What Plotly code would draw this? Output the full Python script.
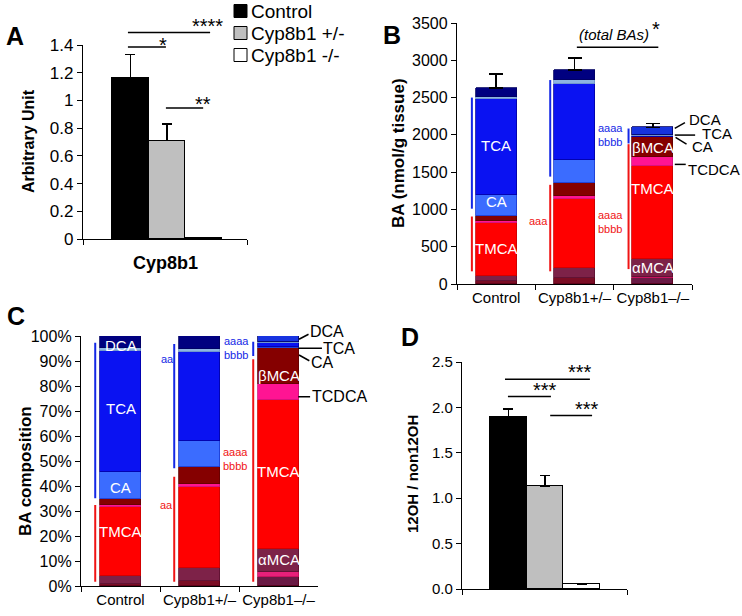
import plotly.graph_objects as go

FONT = "Liberation Sans, Arial, sans-serif"
W, H = 742, 616

# ---------------- data ----------------
# Panel A: Cyp8b1 expression
A_groups = ["Control", "Cyp8b1 +/-", "Cyp8b1 -/-"]
A_values = [1.16, 0.71, 0.005]
A_err = [0.17, 0.12, 0.0]
A_pos = [-1, 0, 1]

# Panel D: 12OH / non12OH ratio
D_values = [1.89, 1.13, 0.05]
D_err = [0.09, 0.12, 0.01]
D_pos = [-1, 0, 1]

# Panels B & C: stacked bile-acid composition
BC_cats = ["Control", "Cyp8b1+/–", "Cyp8b1–/–"]
species = ["other", "minor", "αMCA", "TMCA", "TCDCA", "βMCA", "CA", "TCA", "TDCA", "DCA"]
B_other = [40, 80, 75]
B_minor = [0, 0, 25]
B_aMCA = [70, 135, 230]
B_TMCA = [710, 925, 1250]
B_TCDCA = [20, 35, 120]
B_bMCA = [70, 180, 265]
B_CA = [290, 310, 10]
B_TCA = [1280, 1020, 15]
B_TDCA = [30, 45, 8]
B_DCA = [120, 140, 102]
B_err = [185, 160, 50]

C_other = [1.0, 2.0, 3.5]
C_minor = [0.0, 0.0, 2.0]
C_aMCA = [3.0, 5.3, 9.5]
C_TMCA = [27.5, 32.2, 59.5]
C_TCDCA = [1.0, 1.5, 6.5]
C_bMCA = [2.3, 6.5, 14.2]
C_CA = [11.0, 10.5, 0.4]
C_TCA = [48.3, 35.5, 1.5]
C_TDCA = [1.0, 1.5, 0.6]
C_DCA = [4.9, 5.0, 2.3]

B_series = [B_other, B_minor, B_aMCA, B_TMCA, B_TCDCA, B_bMCA, B_CA, B_TCA, B_TDCA, B_DCA]
C_series = [C_other, C_minor, C_aMCA, C_TMCA, C_TCDCA, C_bMCA, C_CA, C_TCA, C_TDCA, C_DCA]

# ---------------- styles ----------------
seg_fill = {
    "other": ["#7b0d24", "#7b0d24", "#6a1a45"],
    "minor": ["#e8207a"] * 3,
    "αMCA": ["#7d2248"] * 3,
    "TMCA": ["#ff0000"] * 3,
    "TCDCA": ["#ff1493"] * 3,
    "βMCA": ["#850000"] * 3,
    "CA": ["#3b6cff"] * 3,
    "TCA": ["#0a12f2"] * 3,
    "TDCA": ["#8db4e2"] * 3,
    "DCA": ["#000080", "#000080", "#1733e0"],
}
seg_line = {
    "other": "#5a0018", "minor": "#c0105a", "αMCA": "#5a1030", "TMCA": "#c80000",
    "TCDCA": "#d0107a", "βMCA": "#600000", "CA": "#1a3ad0", "TCA": "#0000a0",
    "TDCA": "#6a90c8", "DCA": "#000060",
}
A_colors = ["#000000", "#bfbfbf", "#ffffff"]

A_RANGE = [-2.3, 2.19]
A_YR = [0, 1.4]
D_RANGE = [-2.26, 2.23]
D_YR = [0, 2.5]
BC_XR = [-0.5, 2.5]
B_YR = [0, 3500]
C_YR = [0, 100]
RANGES = {"x": A_RANGE, "y": A_YR, "x2": BC_XR, "y2": B_YR,
          "x3": BC_XR, "y3": C_YR, "x4": D_RANGE, "y4": D_YR}

fig = go.Figure()

# Panel A bars
for i in range(3):
    fig.add_trace(go.Bar(
        x=[A_pos[i]], y=[A_values[i]], width=1.0, name=A_groups[i],
        marker=dict(color=A_colors[i], line=dict(color="black", width=1)),
        error_y=dict(type="data", symmetric=False, array=[A_err[i]], arrayminus=[0],
                     color="black", thickness=1.5, width=5, visible=A_err[i] > 0),
        xaxis="x", yaxis="y", showlegend=False))

# Panel D bars
for i in range(3):
    fig.add_trace(go.Bar(
        x=[D_pos[i]], y=[D_values[i]], width=1.0, name=A_groups[i],
        marker=dict(color=A_colors[i], line=dict(color="black", width=1)),
        error_y=dict(type="data", symmetric=False, array=[D_err[i]], arrayminus=[0],
                     color="black", thickness=1.5, width=5),
        xaxis="x4", yaxis="y4", showlegend=False))

# Panels B and C stacked bars
for k, sp in enumerate(species):
    eb = None
    if sp == "DCA":
        eb = dict(type="data", symmetric=False, array=B_err, arrayminus=[0, 0, 0],
                  color="black", thickness=1.5, width=7)
    fig.add_trace(go.Bar(
        x=BC_cats, y=B_series[k], width=0.52, name=sp,
        marker=dict(color=seg_fill[sp], line=dict(color=seg_line[sp], width=0.8)),
        error_y=eb, xaxis="x2", yaxis="y2", showlegend=False))
    fig.add_trace(go.Bar(
        x=BC_cats, y=C_series[k], width=0.52, name=sp,
        marker=dict(color=seg_fill[sp], line=dict(color=seg_line[sp], width=0.8)),
        xaxis="x3", yaxis="y3", showlegend=False))

# ---------------- helpers ----------------
def fr(v, r):
    return (v - r[0]) / (r[1] - r[0])

shapes = []
annos = []

def line(ax, x0, x1, y0, y1, color="black", width=1.5):
    xr, yr = RANGES[ax[0]], RANGES[ax[1]]
    shapes.append(dict(type="line", xref=f"{ax[0]} domain", yref=f"{ax[1]} domain",
                       x0=fr(x0, xr), x1=fr(x1, xr), y0=fr(y0, yr), y1=fr(y1, yr),
                       line=dict(color=color, width=width)))

def text(ax, x, y, t, size=14, color="black", yshift=0, **kw):
    xr, yr = RANGES[ax[0]], RANGES[ax[1]]
    d = dict(xref=f"{ax[0]} domain", yref=f"{ax[1]} domain", x=fr(x, xr), y=fr(y, yr),
             text=t, showarrow=False, xanchor="center", yanchor="middle",
             font=dict(family=FONT, size=size, color=color), yshift=yshift)
    d.update(kw)
    annos.append(d)

def ptext(px, py, t, size=16, bold=False, angle=0, xanchor="center"):
    if bold:
        t = f"<b>{t}</b>"
    annos.append(dict(xref="paper", yref="paper", x=px / W, y=1 - py / H, text=t,
                      showarrow=False, textangle=angle, xanchor=xanchor, yanchor="middle",
                      font=dict(family=FONT, size=size, color="black")))

# Legend (custom, for panel A/D groups)
for i, g in enumerate(A_groups):
    cy = 11 + 22 * i
    shapes.append(dict(type="rect", xref="paper", yref="paper",
                       x0=234 / W, x1=247 / W, y0=1 - (cy + 6.5) / H, y1=1 - (cy - 6.5) / H,
                       fillcolor=A_colors[i], line=dict(color="black", width=1)))
    ptext(249, cy, g, size=19, xanchor="left")

# Significance bars (data units)
A_sig = [(-1.07, 1.18, 1.49, "****", 1.10, 1.537),
         (-1.07, -0.03, 1.385, "*", -0.11, 1.40),
         (-0.03, 0.99, 0.945, "**", 0.99, 0.974)]
for x0, x1, y, t, tx, ty in A_sig:
    line(("x", "y"), x0, x1, y, y)
    text(("x", "y"), tx, ty, t, size=20)

D_sig = [(-1.09, 1.22, 2.31, "***", 0.95, 2.387),
         (-1.01, 0.16, 2.12, "***", 0.0, 2.19),
         (0.14, 1.28, 1.91, "***", 1.14, 1.98)]
for x0, x1, y, t, tx, ty in D_sig:
    line(("x4", "y4"), x0, x1, y, y)
    text(("x4", "y4"), tx, ty, t, size=20)

# B total BAs bar
line(("x2", "y2"), 1.03, 2.07, 3176, 3176)
text(("x2", "y2"), 1.5, 3340, "<i>(total BAs)</i>", size=15)
text(("x2", "y2"), 2.04, 3420, "*", size=20)

# Bracket lines beside bars: (category index, y0, y1, color)
BLUE, RED = "#1428e6", "#f01414"
B_brackets = [(0, 1010, 2500, BLUE), (0, 170, 905, RED),
              (1, 1440, 2735, BLUE), (1, 170, 1330, RED),
              (2, 1885, 2085, BLUE), (2, 200, 1875, RED)]
for c, y0, y1, col in B_brackets:
    line(("x2", "y2"), c - 0.31, c - 0.31, y0, y1, color=col, width=2)
C_brackets = [(0, 35.1, 97.3, BLUE), (0, 1.7, 32.4, RED),
              (1, 47.1, 96.8, BLUE), (1, 1.7, 43.7, RED),
              (2, 92.0, 97.7, BLUE), (2, 1.7, 90.7, RED)]
for c, y0, y1, col in C_brackets:
    line(("x3", "y3"), c - 0.32, c - 0.32, y0, y1, color=col, width=2)

text(("x2", "y2"), 0.545, 848, "aaa", size=11, color=RED)
text(("x2", "y2"), 1.46, 2000, "aaaa<br>bbbb", size=11, color=BLUE)
text(("x2", "y2"), 1.46, 828, "aaaa<br>bbbb", size=11, color=RED)
text(("x3", "y3"), 0.60, 90.7, "aa", size=11, color=BLUE)
text(("x3", "y3"), 0.58, 32.4, "aa", size=11, color=RED)
text(("x3", "y3"), 1.47, 95.2, "aaaa<br>bbbb", size=11, color=BLUE)
text(("x3", "y3"), 1.45, 51.0, "aaaa<br>bbbb", size=11, color=RED)

# In-bar labels
WHITE = "#ffffff"
for c, y, t in [(0, 1853, "TCA"), (0, 1103, "CA"), (0, 478, "TMCA"),
                (2, 1832, "βMCA"), (2, 1282, "TMCA"), (2, 224, "αMCA")]:
    text(("x2", "y2"), c, y, t, size=15, color=WHITE)
for c, y, t in [(0, 96.4, "DCA"), (0, 71.1, "TCA"), (0, 39.5, "CA"), (0, 21.7, "TMCA"),
                (2, 84.4, "βMCA"), (2, 45.7, "TMCA"), (2, 10.7, "αMCA")]:
    text(("x3", "y3"), c, y, t, size=15, color=WHITE)

# Leader labels beside the knockout bar
B_lead = [((2.28, 2086), (2.41, 2165), "DCA", (2.66, 2205)),
          ((2.28, 1997), (2.54, 1997), "TCA", (2.82, 2019)),
          ((2.29, 1966), (2.43, 1876), "CA", (2.64, 1840)),
          ((2.28, 1604), (2.42, 1604), "TCDCA", (2.78, 1541))]
for (x0, y0), (x1, y1), t, (tx, ty) in B_lead:
    line(("x2", "y2"), x0, x1, y0, y1, width=1.5)
    text(("x2", "y2"), tx, ty, t, size=15)
C_lead = [((2.26, 98.7), (2.38, 100.7), "DCA", (2.62, 101.7)),
          ((2.25, 95.1), (2.55, 95.1), "TCA", (2.77, 95.1)),
          ((2.26, 92.4), (2.39, 90.1), "CA", (2.56, 89.3)),
          ((2.25, 75.7), (2.40, 75.7), "TCDCA", (2.77, 76.0))]
for (x0, y0), (x1, y1), t, (tx, ty) in C_lead:
    line(("x3", "y3"), x0, x1, y0, y1, width=1.5)
    text(("x3", "y3"), tx, ty, t, size=16)

# Panel letters and axis titles
ptext(15, 36, "A", size=25, bold=True)
ptext(392, 35, "B", size=25, bold=True)
ptext(16, 316, "C", size=25, bold=True)
ptext(410, 337, "D", size=25, bold=True)
ptext(28, 141, "Arbitrary Unit", size=16, bold=True, angle=-90)
ptext(165, 263, "Cyp8b1", size=18, bold=True)
ptext(398, 153, "BA (nmol/g tissue)", size=17, bold=True, angle=-90)
ptext(25, 471, "BA composition", size=17, bold=True, angle=-90)
ptext(413, 474, "12OH / non12OH", size=15, bold=True, angle=-90)

axis_common = dict(showline=True, linecolor="black", linewidth=1.3, showgrid=False,
                   zeroline=False, ticks="outside", ticklen=5, tickcolor="black",
                   tickwidth=1.3, automargin=False)

fig.update_layout(
    width=W, height=H, margin=dict(l=0, r=0, t=0, b=0, pad=0, autoexpand=False),
    paper_bgcolor="white", plot_bgcolor="rgba(0,0,0,0)",
    barmode="stack", bargap=0, showlegend=False,
    font=dict(family=FONT, color="black"),
    xaxis=dict(domain=[83 / W, 247 / W], range=A_RANGE, anchor="y",
               tickvals=[A_RANGE[0], A_RANGE[1]], showticklabels=False, **axis_common),
    yaxis=dict(domain=[1 - 239 / H, 1 - 45 / H], range=A_YR, anchor="x", dtick=0.2,
               tickfont=dict(size=17), **axis_common),
    xaxis2=dict(domain=[457 / W, 692 / W], range=BC_XR, anchor="y2", type="category",
                tickson="boundaries", tickangle=0, tickfont=dict(size=15), **axis_common),
    yaxis2=dict(domain=[1 - 284 / H, 1 - 23 / H], range=B_YR, anchor="x2", dtick=500,
                tickfont=dict(size=16), **axis_common),
    xaxis3=dict(domain=[81 / W, 318 / W], range=BC_XR, anchor="y3", type="category",
                tickson="boundaries", tickangle=0, tickfont=dict(size=15), **axis_common),
    yaxis3=dict(domain=[1 - 586 / H, 1 - 336 / H], range=C_YR, anchor="x3", dtick=10,
                ticksuffix="%", tickfont=dict(size=16), **axis_common),
    xaxis4=dict(domain=[462 / W, 627 / W], range=D_RANGE, anchor="y4",
                tickvals=[D_RANGE[0], D_RANGE[1]], showticklabels=False, **axis_common),
    yaxis4=dict(domain=[1 - 589 / H, 1 - 362 / H], range=D_YR, anchor="x4", dtick=0.5,
                tickformat=".1f", tickfont=dict(size=15), **axis_common),
    shapes=shapes, annotations=annos,
)

fig.write_html("out.html", config={"displayModeBar": False},
               post_script="document.body.style.margin='0';document.body.style.overflow='hidden';")
